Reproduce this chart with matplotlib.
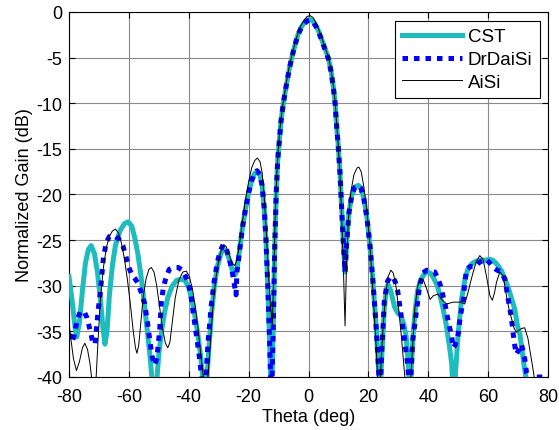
import matplotlib

matplotlib.use("Agg")
import matplotlib.pyplot as plt

# CST (cyan, thick solid)
cst_theta = [
    -80, -79, -78, -77.4, -76.5, -75.5, -74.5, -73.5, -72.6, -71.5, -70.5, -69.5,
    -68.6, -68.0, -67.3, -66.5, -65.5, -64.5, -63, -61.5, -60.2, -59, -58, -57,
    -56, -55, -54, -53, -52.2, -51.5, -50.7, -50, -49, -48, -47, -45.5, -44,
    -42.5, -41.3, -40, -39, -38, -37, -36, -35.2, -34.6, -34, -33.3, -32.5,
    -31.5, -30.5, -29.3, -28.3, -27.3, -26.3, -25.3, -24.5, -23.8, -23, -22,
    -21, -20, -19, -18, -17.2, -16.3, -15.5, -14.8, -14.2, -13.6, -13.0, -12.4,
    -11.8, -11.3, -10.8, -10.3, -9.8, -9.2, -8.4, -7.5, -6.5, -5.6, -4.5, -3.5,
    -2.5, -1.5, -0.5, 0.5, 1.5, 2.5, 3.5, 4.5, 5.5, 6.6, 7.5, 8.3, 8.9, 9.4,
    9.9, 10.5, 11.0, 11.5, 12.2, 12.8, 13.5, 14.5, 15.5, 16.6, 17.5, 18.5, 19.5,
    20.5, 21.5, 22.5, 23.3, 23.9, 24.5, 25.3, 26.0, 26.6, 27.5, 28.7, 29.8,
    30.9, 31.8, 32.6, 33.3, 33.9, 34.5, 35.0, 35.7, 36.4, 37.2, 38.1, 39.0,
    39.8, 41.0, 42.0, 43.0, 44.0, 45.0, 46.0, 47.0, 47.8, 48.5, 49.2, 50.0,
    50.6, 51.1, 52.2, 53.2, 54.5, 56.0, 57.5, 59.0, 60.5, 61.5, 62.5, 63.5,
    64.5, 65.5, 66.7, 67.8, 68.9, 69.8, 70.6, 71.3, 71.9, 72.8, 73.5,
]
cst_gain = [
    -29.0, -31.5, -34.5, -35.6, -34.0, -30.5, -27.5, -26.0, -25.6, -26.5, -28.5, -31.5,
    -34.8, -36.4, -35.0, -31.0, -27.8, -25.6, -24.0, -23.2, -23.0, -23.5, -24.8, -26.5,
    -28.8, -31.5, -34.5, -37.5, -40.5, -42, -40.5, -37.5, -34.8, -32.8, -31.3, -30.0, -29.4,
    -29.3, -29.4, -30.2, -31.5, -33.2, -35.2, -37.8, -40.5, -43, -40.5, -37, -33.5,
    -30.2, -28, -26.5, -26.0, -26.3, -27.3, -28.5, -28.8, -28.0, -26, -23.5,
    -21.5, -19.8, -18.5, -17.7, -17.5, -17.8, -19.0, -21.5, -25, -30, -36, -43,
    -35, -26, -20, -16.3, -14.3, -12, -10, -8.2, -6.4, -5.0, -3.6, -2.5,
    -1.7, -1.2, -0.9, -0.8, -1.0, -1.5, -2.2, -3.1, -4.0, -5.0, -6.4, -8.2, -10, -12.5,
    -14.5, -17.5, -21, -24.5, -28.5, -25, -22, -20, -19.2, -19.0, -19.3, -20.5, -22.5,
    -25.5, -29.5, -34, -38.5, -42, -37.5, -32.5, -30.3, -29.9, -30.6, -32.3, -33.0,
    -33.3, -34.2, -35.5, -38.5, -42, -38, -35, -32.5, -30.6, -29.6, -29.0, -28.6,
    -28.5, -28.7, -29.3, -30.0, -31.2, -32.6, -34.3, -36.5, -38.5, -43, -39, -35.2,
    -33.2, -31.5, -29.4, -28.2, -27.6, -27.3, -27.2, -27.2, -27.1, -27.2, -27.5, -27.9,
    -28.4, -29.2, -30.2, -31.4, -32.6, -34.4, -35.3, -37.0, -38.5, -40.5, -45,
]

# DrDaiSi (blue, thick dotted)
dr_theta = [
    -80, -79, -78.3, -77.3, -76.3, -75, -74, -73, -72, -71.3, -70.7, -70.2,
    -69.6, -69.0, -68.5, -67.5, -66.5, -65.5, -64.5, -63.3, -62, -61, -60, -59,
    -58, -57, -55.8, -54.7, -53.8, -53, -52.2, -51.4, -50.7, -50.2, -49.7, -49.2,
    -48.5, -47.5, -46.5, -45, -43.5, -42.2, -41.2, -40.2, -39.3, -38.5, -37.5,
    -36.5, -35.7, -35.0, -34.3, -33.5, -32.5, -31.5, -30.5, -29.5, -28.5, -27.5,
    -26.5, -25.5, -24.8, -24.2, -23.9, -23.0, -22, -21, -20, -19, -18, -17.2,
    -16.3, -15.5, -14.8, -14.2, -13.6, -13.0, -12.4, -11.8, -11.3, -10.8, -10.3,
    -9.8, -9.2, -8.4, -7.5, -6.5, -5.6, -4.5, -3.5, -2.5, -1.5, -0.5, 0.5, 1.5,
    2.5, 3.5, 4.5, 5.5, 6.6, 7.5, 8.3, 8.9, 9.4, 9.9, 10.5, 11.0, 11.5, 12.2,
    12.8, 13.5, 14.5, 15.5, 16.6, 17.5, 18.5, 19.5, 20.5, 21.5, 22.5, 23.3,
    23.9, 24.5, 25.3, 26.4, 27.2, 28.1, 29.0, 29.8, 30.9, 32.0, 33.1, 33.9,
    34.8, 35.9, 37.0, 38.1, 39.5, 41.0, 42.2, 43.9, 45.6, 46.7, 47.8, 48.3,
    49.0, 50.0, 50.6, 51.7, 52.2, 52.8, 54.0, 55.5, 57.2, 59.4, 60.5, 61.7,
    63.0, 64.4, 65.6, 66.7, 67.8, 68.3, 68.9, 69.4, 70.3, 71.1, 71.7, 72.2,
    72.8, 74.0, 75.5, 78, 80,
]
dr_gain = [
    -35.3, -36.2, -35.5, -33.8, -32.9, -32.8, -33.5, -34.8, -36.3, -36.4, -34.3, -32.5,
    -31.0, -28.8, -26.9, -25.2, -24.6, -24.5, -24.6, -24.9, -25.6, -26.8, -28.0, -28.8,
    -29.2, -29.7, -30.8, -32.0, -34.0, -36.0, -37.8, -38.7, -38.0, -36.5, -34.8, -32.0,
    -30.2, -29.0, -28.2, -28.0, -28.0, -28.3, -28.9, -29.6, -31.0, -33.0, -35.3,
    -37.7, -40, -43, -40, -36, -32.2, -29.5, -27.5, -26.2, -25.5, -25.9,
    -27.0, -28.4, -29.8, -31.0, -28.5, -26.1, -23.5, -21.5, -19.8, -18.5, -17.6, -17.4,
    -17.8, -19.0, -21.5, -25, -30, -36, -43, -35, -26, -20, -16.3,
    -14.3, -12, -10, -8.2, -6.4, -5.0, -3.6, -2.5, -1.8, -1.3, -1.0, -0.9, -1.1,
    -1.6, -2.3, -3.2, -4.1, -5.1, -6.5, -8.3, -10.1, -12.6, -14.6, -17.6, -21, -24.5, -28.5,
    -25, -22, -20, -19.2, -19.0, -19.3, -20.5, -22.5, -25.5, -29.5, -34, -38.5,
    -42, -37, -31.7, -29.5, -29.1, -29.0, -29.6, -30.6, -33.2, -35.7, -38.6, -42,
    -36, -33.2, -30.3, -28.6, -28.3, -28.4, -28.5, -29.8, -32.0, -34.0, -35.5, -36.8,
    -36.5, -35.3, -33.6, -31.5, -29.6, -28.2, -27.9, -27.9, -27.4, -27.1, -27.5, -28.0,
    -28.3, -28.5, -29.3, -31.5, -33.6, -35.1, -36.6, -37.5, -37.0, -36.4, -37.2, -38.0,
    -39.5, -40.5, -40, -40, -40,
]

# AiSi (black, thin solid)
ai_theta = [
    -80, -79.3, -78.5, -77.5, -76.5, -75.5, -74.7, -73.8, -73.0, -72.3, -71.7, -71.0,
    -70.3, -69.5, -68.5, -67.5, -66.5, -65.5, -64.5, -63.5, -62.5, -61.5, -60.5,
    -59.5, -58.6, -57.8, -57.3, -56.7, -56.0, -55.2, -54.3, -53.3, -52.5, -51.6,
    -50.7, -49.8, -48.8, -47.8, -47.0, -46.3, -45.5, -44.5, -43.3, -42.0, -40.8,
    -39.8, -38.8, -37.8, -36.8, -35.8, -35.0, -34.3, -33.6, -32.8, -32, -31, -30,
    -29, -28.3, -27.5, -26.5, -25.5, -24.6, -23.8, -23, -22, -21, -20, -19, -18,
    -17.1, -16.2, -15.5, -14.8, -14.2, -13.5, -12.8, -12.1, -11.6, -11.1, -10.6,
    -10.1, -9.5, -9.0, -8.4, -7.5, -6.5, -5.6, -4.5, -3.5, -2.5, -1.5, -0.5, 0.5,
    1.5, 2.5, 3.5, 4.5, 5.5, 6.6, 7.5, 8.3, 8.9, 9.4, 9.9, 10.5, 11.0, 11.6, 12.2,
    12.7, 13.3, 14.2, 15.2, 16.2, 16.8, 17.6, 18.5, 19.5, 20.5, 21.5, 22.4, 23.0,
    23.6, 24.3, 25.0, 25.8, 26.6, 27.5, 28.3, 29.2, 30.1, 31.0, 31.8, 32.3, 33.3,
    34.2, 34.8, 35.5, 36.5, 37.5, 38.5, 39.4, 40.6, 41.7, 43.3, 44.4, 46.1, 48.3,
    50.6, 52.2, 53.3, 54.2, 55.0, 56.1, 57.2, 58.3, 59.4, 60.6, 61.4, 62.1, 62.8,
    63.9, 65.0, 66.1, 67.0, 67.8, 68.6, 69.4, 70.2, 71.1, 72.2, 73.3, 74.4, 75.0,
    75.6, 76.2,
]
ai_gain = [
    -34.0, -36.0, -38.0, -39.3, -38.3, -36.8, -36.3, -37.0, -38.5, -40.5, -43, -40.5,
    -36, -31.5, -28, -25.8, -24.6, -24.0, -23.8, -24.2, -25.3, -27, -29.3,
    -32, -34.8, -36.8, -37.4, -36.5, -34, -31.2, -29.3, -28.2, -28.0, -28.5,
    -30.0, -32.2, -34.6, -36.3, -36.8, -36.2, -34, -31.3, -29.4, -28.5, -28.4,
    -29.0, -30.3, -32.3, -35, -38, -40.5, -43, -40, -36.5, -32.5, -29.3, -27.2,
    -25.9, -25.5, -25.7, -26.6, -27.5, -27.8, -27.0, -25.3, -22.8, -20.5, -18.6, -17.1, -16.3,
    -16.0, -16.4, -17.6, -20.2, -23.5, -28, -31.8, -34.3, -29, -22, -17.8,
    -15.0, -12.6, -11.2, -9.8, -7.9, -6.1, -4.8, -3.4, -2.3, -1.5, -0.9, -0.5, -0.4,
    -0.6, -1.2, -2.0, -2.9, -3.9, -4.9, -6.3, -8.1, -9.9, -12.3, -14.4, -17.8, -21.8, -27.5, -34.4,
    -27.5, -22.8, -19.6, -17.8, -17.1, -17.0, -17.5, -19.2, -21.8, -25.5, -30.5, -35.5, -39.5,
    -43, -38, -34, -30.8, -29.0, -28.3, -28.6, -30.0, -32.5, -35.5, -38.5, -40.5, -43,
    -40, -36.5, -32.5, -30.0, -29.2, -29.5, -30.3, -31.5, -31.1, -30.9, -31.5, -32.0, -31.8,
    -31.8, -32.0, -30.7, -29.5, -28.5, -27.3, -26.7, -27.1, -28.9, -31.1, -31.6, -30.8, -29.6,
    -28.5, -28.9, -31.1, -32.6, -33.6, -34.6, -35.1, -34.9, -34.7, -34.6, -35.8, -38.0, -39.2,
    -40.5, -43,
]

x_ticks = [-80, -60, -40, -20, 0, 20, 40, 60, 80]
y_ticks = [-40, -35, -30, -25, -20, -15, -10, -5, 0]

plt.rcParams["font.family"] = ["Liberation Sans", "DejaVu Sans"]
plt.rcParams["font.size"] = 13
plt.rcParams["axes.unicode_minus"] = False

fig = plt.figure(figsize=(5.59, 4.31), dpi=100)
ax = fig.add_axes([0.1234, 0.123, 0.857, 0.847])

ax.plot(cst_theta, cst_gain, color="#1dbdbd", linewidth=3.6, label="CST",
        solid_joinstyle="round", zorder=3)
ax.plot(dr_theta, dr_gain, color="#0000ff", linewidth=3.6, linestyle=(0, (1.1, 1.2)),
        dash_capstyle="butt", label="DrDaiSi", zorder=4)
ax.plot(ai_theta, ai_gain, color="black", linewidth=0.7, label="AiSi", zorder=5)

ax.set_xlim(-80, 80)
ax.set_ylim(-40, 0)
ax.set_xticks(x_ticks)
ax.set_yticks(y_ticks)
ax.grid(True, color="#8a8a8a", linewidth=0.8)
ax.tick_params(direction="in", top=True, right=True, length=4, width=0.8)
ax.tick_params(axis="x", pad=8)
ax.tick_params(axis="y", pad=5)
for s in ax.spines.values():
    s.set_linewidth(0.8)

ax.set_xlabel("Theta (deg)", labelpad=2)
ax.set_ylabel("Normalized Gain (dB)", labelpad=2)

leg = ax.legend(loc="upper right", bbox_to_anchor=(0.9833, 0.976), borderaxespad=0,
                fancybox=False, framealpha=1, edgecolor="black", handlelength=3.2,
                handletextpad=0.3, labelspacing=0.3, borderpad=0.4, fontsize=13.5)
leg.get_frame().set_linewidth(0.8)

fig.savefig("out.png", dpi=100)
plt.close(fig)
